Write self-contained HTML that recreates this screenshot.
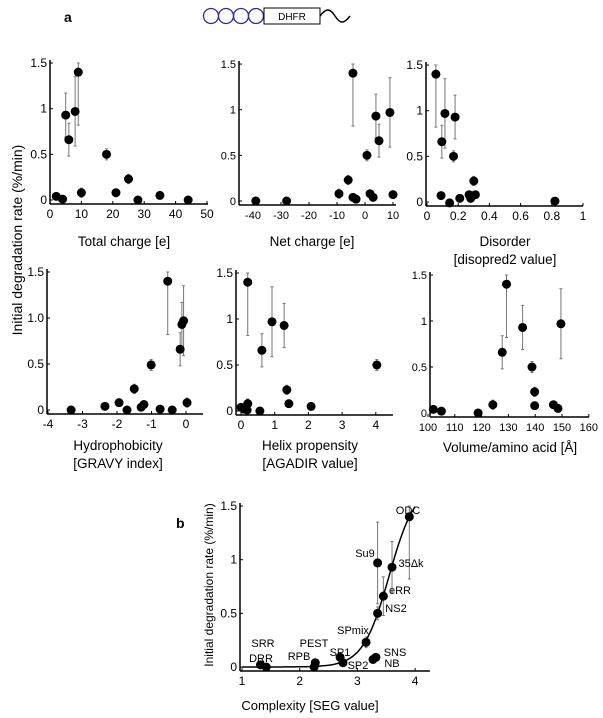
<!DOCTYPE html>
<html><head><meta charset="utf-8"><style>
body{margin:0;background:#fff;}
svg{display:block;font-family:"Liberation Sans",Arial,sans-serif;}
</style></head><body>
<svg id="fig" width="603" height="718" viewBox="0 0 603 718">
<text x="64" y="22" font-size="14" font-weight="bold">a</text>
<g>
<circle cx="211" cy="16" r="7.5" fill="none" stroke="#2a2aa0" stroke-width="1.3"/>
<circle cx="226" cy="16" r="7.5" fill="none" stroke="#2a2aa0" stroke-width="1.3"/>
<circle cx="241" cy="16" r="7.5" fill="none" stroke="#2a2aa0" stroke-width="1.3"/>
<circle cx="256" cy="16" r="7.5" fill="none" stroke="#2a2aa0" stroke-width="1.3"/>
<rect x="264" y="8" width="56" height="16" fill="#fff" stroke="#000" stroke-width="1"/>
<text x="292" y="20" font-size="10" text-anchor="middle">DHFR</text>
<path d="M320 16 C326 8,330 8,335 16 S344 24,350 16" fill="none" stroke="#000" stroke-width="1.5"/>
</g>
<text transform="translate(22,240) rotate(-90)" font-size="14" text-anchor="middle">Initial degradation rate (%/min)</text>
<text x="176" y="528" font-size="14" font-weight="bold">b</text>
<text transform="translate(213,585) rotate(-90)" font-size="12" text-anchor="middle">Initial degradation rate (%/min)</text>
<text x="310" y="710" font-size="13" text-anchor="middle">Complexity [SEG value]</text>
</svg>
<script>
// Panel data
const tcX=[2,4,5,6,8,9,10,18,21,25,28,35,44];
const tcY=[0.04,0.01,0.93,0.66,0.97,1.4,0.08,0.5,0.08,0.23,0,0.05,0];
const tcE=[0,0,0.24,0.18,0.38,0.58,0.05,0.06,0,0.05,0,0,0];
const ncX=[-39,-28,-9.3,-6,-4.3,-4.3,-3.2,0.7,1.8,2.9,3.9,5,8.9,10];
const ncY=[0,0,0.08,0.23,1.4,0.04,0.02,0.5,0.08,0.04,0.93,0.66,0.97,0.07];
const ncE=[0,0,0.05,0.05,0.58,0,0,0.06,0,0,0.24,0.18,0.38,0];
const diX=[0.057,0.09,0.095,0.115,0.145,0.17,0.18,0.21,0.27,0.28,0.30,0.31,0.82];
const diY=[1.4,0.07,0.66,0.97,-0.01,0.5,0.93,0.04,0.08,0.04,0.23,0.08,0.01];
const diE=[0.58,0,0.18,0.38,0,0.06,0.24,0,0,0,0.05,0,0];
const hyX=[-3.33,-2.35,-1.94,-1.71,-1.5,-1.3,-1.22,-1.01,-0.75,-0.53,-0.4,-0.17,-0.12,-0.07,0.03];
const hyY=[0,0.04,0.08,0,0.23,0.03,0.06,0.49,0.01,1.4,0,0.66,0.93,0.97,0.08];
const hyE=[0,0,0,0,0.05,0,0,0.06,0,0.58,0,0.18,0.24,0.38,0.05];
const heX=[0,0.09,0.18,0.2,0.2,0.56,0.62,0.92,1.28,1.36,1.42,2.08,4.03];
const heY=[0.04,0.02,0.01,1.4,0.08,0,0.66,0.97,0.93,0.23,0.08,0.05,0.5];
const heE=[0,0,0,0.58,0.05,0,0.18,0.38,0.24,0.05,0,0,0.06];
const voX=[102,105,118.7,124.2,127.7,129.3,135.3,138.8,139.8,139.8,146.8,148.5,149.6];
const voY=[0.04,0.02,0,0.09,0.66,1.4,0.93,0.5,0.23,0.08,0.09,0.05,0.97];
const voE=[0,0,0,0.05,0.18,0.58,0.24,0.06,0.05,0,0,0,0.38];
const cxNames=["SRR","DRR","RPB","PEST","SP1","SP2","SPmix","NB","SNS","Su9","NS2","eRR","35Δk","ODC"];
const cxX=[1.32,1.42,2.25,2.27,2.7,2.75,3.15,3.27,3.32,3.35,3.35,3.45,3.6,3.9];
const cxY=[0.02,0.0,0.0,0.04,0.09,0.04,0.23,0.07,0.09,0.97,0.5,0.66,0.93,1.4];
const cxE=[0,0,0,0,0,0,0.05,0,0,0.38,0.06,0.18,0.24,0.58];

const NS="http://www.w3.org/2000/svg";
const svg=document.getElementById('fig');
function el(tag,attrs,parent,txt){const e=document.createElementNS(NS,tag);for(const k in attrs)e.setAttribute(k,attrs[k]);if(txt!==undefined)e.textContent=txt;(parent||svg).appendChild(e);return e;}

function panel(c){
  const g=el('g',{});
  
  
  const sx=v=>c.px0+(v-c.x0)*c.pxu;
  const sy=v=>c.py0-v*c.pyu;
  const axY=c.py0+4;
  const ya=el('line',{x1:c.yaxX,x2:c.yaxX,y1:sy(1.5)-3,y2:axY,stroke:'#000','stroke-width':1.5},g);
  
  
  const xa=el('line',{x1:c.yaxX,x2:c.xEnd,y1:axY,y2:axY,stroke:'#000','stroke-width':1.5},g);
  
  
  c.yt.forEach((v,i)=>{
    el('line',{x1:c.yaxX,x2:c.yaxX+3,y1:sy(v),y2:sy(v),stroke:'#000','stroke-width':1},g);
    const t=el('text',{x:c.yaxX-3,y:sy(v)+4,'font-size':c.fs||12,'text-anchor':'end'},g,c.ytl[i]);
    
    
  });
  c.xt.forEach(v=>{
    el('line',{x1:sx(v),x2:sx(v),y1:axY,y2:axY-3,stroke:'#000','stroke-width':1},g);
    const t=el('text',{x:sx(v),y:axY+14,'font-size':c.fs||12,'text-anchor':'middle'},g,String(v));
    
    
  });
  c.xs.forEach((x,i)=>{
    const e=c.es[i];
    if(e>0){
      const top=Math.min(c.ys[i]+e,1.5),bot=c.ys[i]-e;
      const b=el('path',{d:`M${sx(x)},${sy(top)}V${sy(bot)}M${sx(x)-1.5},${sy(top)}h3M${sx(x)-1.5},${sy(bot)}h3`,stroke:'#777','stroke-width':1,fill:'none'},g);
      
      
    }
  });
  c.xs.forEach((x,i)=>{
    const p=el('circle',{cx:sx(x),cy:sy(c.ys[i]),r:4.5,fill:'#000'},g);
    
    
  });
  c.titles.forEach((t,i)=>{
    const tt=el('text',{x:c.tx,y:c.ty+i*18,'font-size':13.5,'text-anchor':'middle'},g,t);
    
    
  });
  return {g,sx,sy};
}
const yA=[0,0.5,1,1.5], yAl=['0','0.5','1','1.5'], yB=['0','0.5','1.0','1.5'];
panel({name:'panel-total-charge',xs:tcX,ys:tcY,es:tcE,x0:0,px0:50,pxu:3.14,py0:200,pyu:91.3,yaxX:50,xEnd:208,yt:yA,ytl:yAl,xt:[0,10,20,30,40,50],titles:['Total charge [e]'],tx:124,ty:246});
panel({name:'panel-net-charge',xs:ncX,ys:ncY,es:ncE,x0:0,px0:365,pxu:2.8,py0:201,pyu:91.3,yaxX:239,xEnd:396,yt:yA,ytl:yAl,xt:[-40,-30,-20,-10,0,10],titles:['Net charge [e]'],tx:312,ty:246,fs:11});
panel({name:'panel-disorder',xs:diX,ys:diY,es:diE,x0:0,px0:427,pxu:156,py0:202,pyu:91.3,yaxX:426,xEnd:583,yt:yA,ytl:yAl,xt:[0,0.2,0.4,0.6,0.8,1],titles:['Disorder','[disopred2 value]'],tx:505,ty:246});
panel({name:'panel-hydrophobicity',xs:hyX,ys:hyY,es:hyE,x0:0,px0:186,pxu:34.5,py0:410,pyu:92,yaxX:47,xEnd:203,yt:yA,ytl:yB,xt:[-4,-3,-2,-1,0],titles:['Hydrophobicity','[GRAVY index]'],tx:118,ty:450});
panel({name:'panel-helix-propensity',xs:heX,ys:heY,es:heE,x0:0,px0:241,pxu:33.7,py0:411,pyu:92,yaxX:236,xEnd:393,yt:yA,ytl:yAl,xt:[0,1,2,3,4],titles:['Helix propensity','[AGADIR value]'],tx:310,ty:450});
panel({name:'panel-volume',xs:voX,ys:voY,es:voE,x0:100,px0:428,pxu:2.68,py0:413,pyu:92,yaxX:430,xEnd:589,yt:yA,ytl:yAl,xt:[100,110,120,130,140,150,160],titles:['Volume/amino acid [Å]'],tx:510,ty:452,fs:11});
const pb=panel({name:'panel-complexity',xs:cxX,ys:cxY,es:cxE,x0:1,px0:242,pxu:57.7,py0:667,pyu:107.3,yaxX:240,xEnd:430,yt:yA,ytl:yAl,xt:[1,2,3,4],titles:[],tx:0,ty:0});
let d='';
for(let x=1;x<=4.001;x+=0.02){const y=1.7/(1+Math.exp(-4.4*(x-3.55)));d+=(d?'L':'M')+pb.sx(x).toFixed(1)+','+pb.sy(y).toFixed(1);}
const cv=el('path',{d:d,fill:'none',stroke:'#000','stroke-width':1.5},pb.g);


const lblPos={SRR:[263,643],DRR:[261,658],RPB:[299,656],PEST:[314,643],SP1:[340,652],SP2:[358,665],SPmix:[353,630],NB:[392,663],SNS:[395,652],Su9:[365,553],NS2:[396,608],eRR:[400,590],"35Δk":[411,563],ODC:[408,510]};
cxNames.forEach(n=>{
  const p=lblPos[n];
  const t=el('text',{x:p[0],y:p[1]+4,'font-size':11,'text-anchor':'middle'},pb.g,n);
  
  
});
</script>
</body></html>
